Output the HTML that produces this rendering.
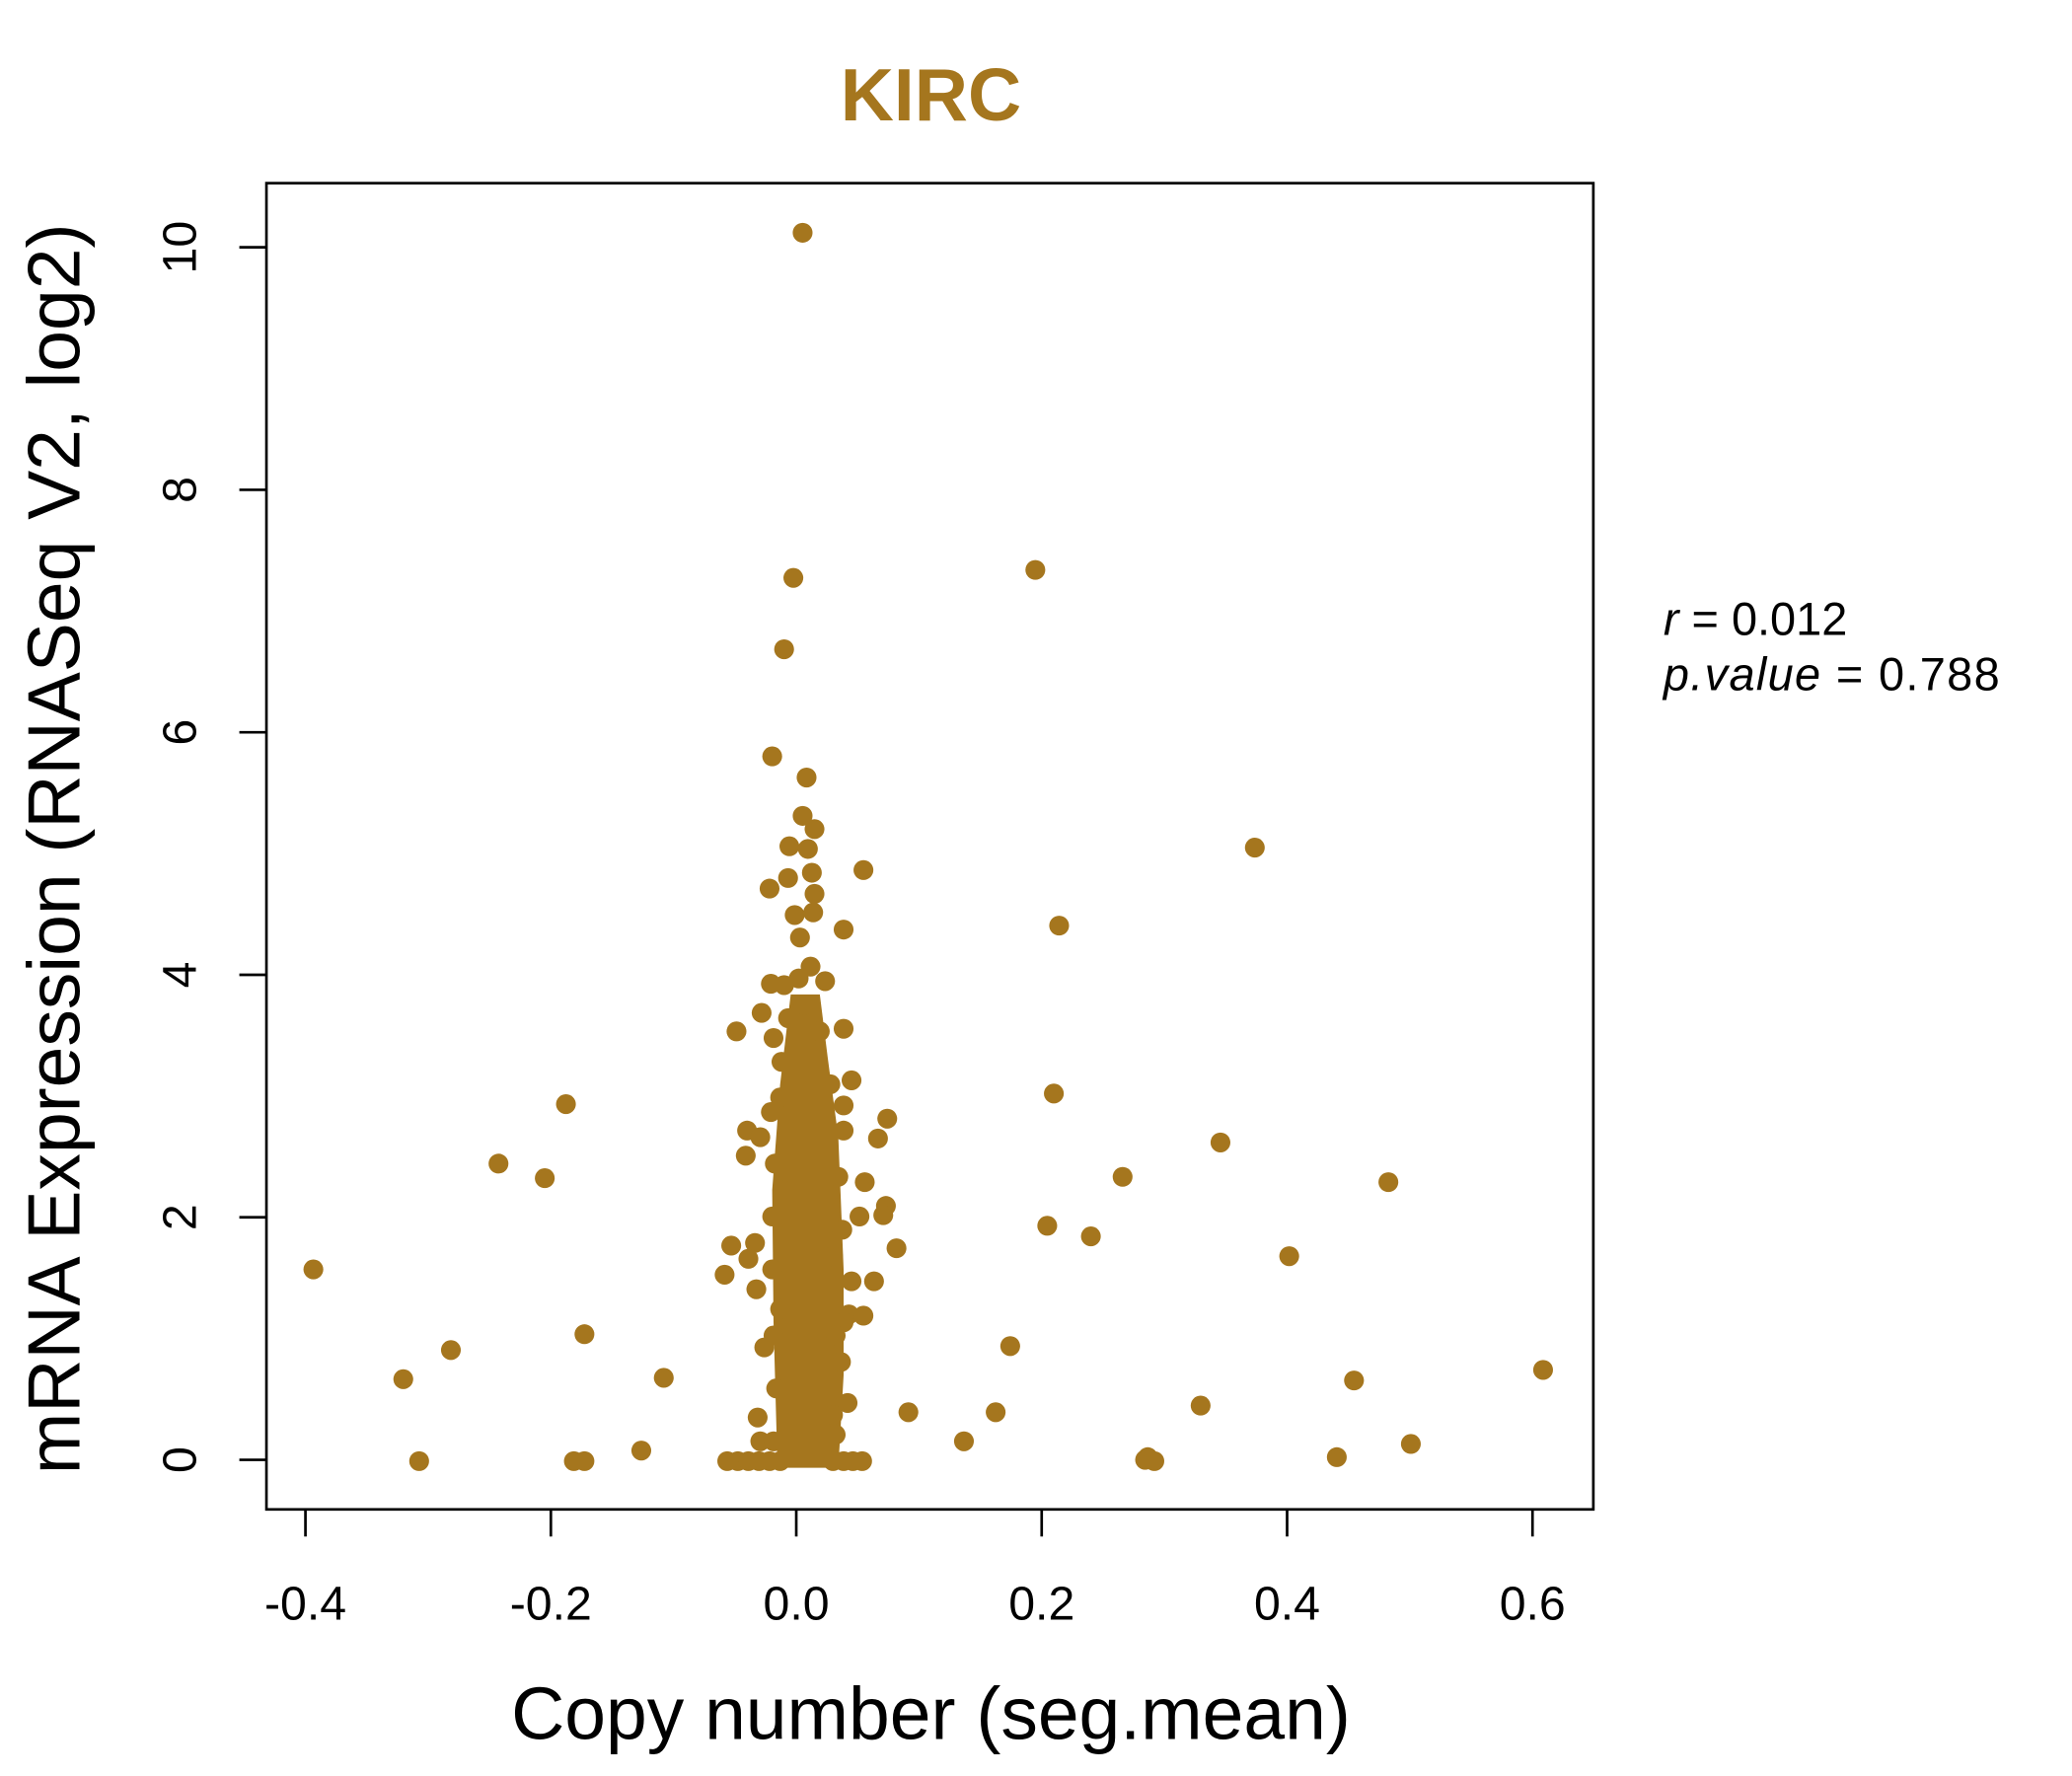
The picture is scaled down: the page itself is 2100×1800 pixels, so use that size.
<!DOCTYPE html>
<html><head><meta charset="utf-8"><style>
html,body{margin:0;padding:0;background:#fff;}
svg{display:block;}
text{font-family:"Liberation Sans",sans-serif;}
</style></head><body>
<svg width="2100" height="1800" viewBox="0 0 1567 1343.1" xmlns="http://www.w3.org/2000/svg">
<rect x="0" y="0" width="1567" height="1343.1" fill="#fff"/>
<text x="704" y="91" font-size="56" font-weight="bold" fill="#A5761E" text-anchor="middle">KIRC</text>
<rect x="201.5" y="138.5" width="1003.5" height="1003" fill="none" stroke="#000" stroke-width="2"/>
<g stroke="#000" stroke-width="2">
<line x1="231" y1="1142" x2="231" y2="1162"/><line x1="416.6" y1="1142" x2="416.6" y2="1162"/><line x1="602.2" y1="1142" x2="602.2" y2="1162"/><line x1="787.8" y1="1142" x2="787.8" y2="1162"/><line x1="973.4" y1="1142" x2="973.4" y2="1162"/><line x1="1159" y1="1142" x2="1159" y2="1162"/>
<line x1="181" y1="1104" x2="201" y2="1104"/><line x1="181" y1="920.6" x2="201" y2="920.6"/><line x1="181" y1="737.2" x2="201" y2="737.2"/><line x1="181" y1="553.8" x2="201" y2="553.8"/><line x1="181" y1="370.4" x2="201" y2="370.4"/><line x1="181" y1="187" x2="201" y2="187"/>
</g>
<g font-size="36" fill="#000" text-anchor="middle">
<text x="231" y="1225">-0.4</text><text x="416.6" y="1225">-0.2</text><text x="602.2" y="1225">0.0</text><text x="787.8" y="1225">0.2</text><text x="973.4" y="1225">0.4</text><text x="1159" y="1225">0.6</text>
<text transform="translate(148,1104) rotate(-90)">0</text>
<text transform="translate(148,920.6) rotate(-90)">2</text>
<text transform="translate(148,737.2) rotate(-90)">4</text>
<text transform="translate(148,553.8) rotate(-90)">6</text>
<text transform="translate(148,370.4) rotate(-90)">8</text>
<text transform="translate(148,187) rotate(-90)">10</text>
</g>
<text x="704" y="1315" font-size="56" text-anchor="middle">Copy number (seg.mean)</text>
<text transform="translate(60,642) rotate(-90)" font-size="56" text-anchor="middle">mRNA Expression (RNASeq V2, log2)</text>
<text x="1258" y="480" font-size="35"><tspan font-style="italic">r</tspan> = 0.012</text>
<text x="1258" y="522" font-size="35" letter-spacing="1"><tspan font-style="italic">p.value</tspan> = 0.788</text>
<g fill="#A5761E">
<path d="M598,752 L620,752 L626,800 L634,860 L638,960 L638,1040 L634,1110 L588,1110 L585,1000 L584,900 L590,820 Z"/>
<circle cx="607" cy="176" r="7.5"/><circle cx="600" cy="437" r="7.5"/><circle cx="593" cy="491" r="7.5"/><circle cx="783" cy="431" r="7.5"/>
<circle cx="584" cy="572" r="7.5"/><circle cx="610" cy="588" r="7.5"/><circle cx="607" cy="617" r="7.5"/><circle cx="616" cy="627" r="7.5"/>
<circle cx="597" cy="640" r="7.5"/><circle cx="611" cy="642" r="7.5"/><circle cx="653" cy="658" r="7.5"/><circle cx="596" cy="664" r="7.5"/>
<circle cx="614" cy="660" r="7.5"/><circle cx="582" cy="672" r="7.5"/><circle cx="616" cy="676" r="7.5"/><circle cx="601" cy="692" r="7.5"/>
<circle cx="615" cy="690" r="7.5"/><circle cx="638" cy="703" r="7.5"/><circle cx="605" cy="709" r="7.5"/><circle cx="801" cy="700" r="7.5"/>
<circle cx="949" cy="641" r="7.5"/><circle cx="613" cy="731" r="7.5"/><circle cx="583" cy="744" r="7.5"/><circle cx="593" cy="745" r="7.5"/>
<circle cx="604" cy="740" r="7.5"/><circle cx="624" cy="742" r="7.5"/><circle cx="576" cy="766" r="7.5"/><circle cx="557" cy="780" r="7.5"/>
<circle cx="638" cy="778" r="7.5"/><circle cx="585" cy="785" r="7.5"/><circle cx="591" cy="803" r="7.5"/><circle cx="644" cy="817" r="7.5"/>
<circle cx="797" cy="827" r="7.5"/><circle cx="428" cy="835" r="7.5"/><circle cx="583" cy="841" r="7.5"/><circle cx="671" cy="846" r="7.5"/>
<circle cx="638" cy="836" r="7.5"/><circle cx="565" cy="855" r="7.5"/><circle cx="564" cy="874" r="7.5"/><circle cx="575" cy="860" r="7.5"/>
<circle cx="638" cy="855" r="7.5"/><circle cx="664" cy="861" r="7.5"/><circle cx="923" cy="864" r="7.5"/><circle cx="377" cy="880" r="7.5"/>
<circle cx="412" cy="891" r="7.5"/><circle cx="849" cy="890" r="7.5"/><circle cx="1050" cy="894" r="7.5"/><circle cx="654" cy="894" r="7.5"/>
<circle cx="670" cy="912" r="7.5"/><circle cx="668" cy="919" r="7.5"/><circle cx="650" cy="920" r="7.5"/><circle cx="792" cy="927" r="7.5"/>
<circle cx="825" cy="935" r="7.5"/><circle cx="678" cy="944" r="7.5"/><circle cx="553" cy="942" r="7.5"/><circle cx="571" cy="940" r="7.5"/>
<circle cx="566" cy="952" r="7.5"/><circle cx="975" cy="950" r="7.5"/><circle cx="548" cy="964" r="7.5"/><circle cx="661" cy="969" r="7.5"/>
<circle cx="644" cy="969" r="7.5"/><circle cx="572" cy="975" r="7.5"/><circle cx="642" cy="994" r="7.5"/><circle cx="653" cy="995" r="7.5"/>
<circle cx="237" cy="960" r="7.5"/><circle cx="442" cy="1009" r="7.5"/><circle cx="341" cy="1021" r="7.5"/><circle cx="305" cy="1043" r="7.5"/>
<circle cx="578" cy="1019" r="7.5"/><circle cx="764" cy="1018" r="7.5"/><circle cx="1167" cy="1036" r="7.5"/><circle cx="502" cy="1042" r="7.5"/>
<circle cx="1024" cy="1044" r="7.5"/><circle cx="687" cy="1068" r="7.5"/><circle cx="753" cy="1068" r="7.5"/><circle cx="908" cy="1063" r="7.5"/>
<circle cx="573" cy="1072" r="7.5"/><circle cx="641" cy="1061" r="7.5"/><circle cx="729" cy="1090" r="7.5"/><circle cx="485" cy="1097" r="7.5"/>
<circle cx="1067" cy="1092" r="7.5"/><circle cx="1011" cy="1102" r="7.5"/><circle cx="575" cy="1090" r="7.5"/><circle cx="585" cy="1090" r="7.5"/>
<circle cx="632" cy="1085" r="7.5"/><circle cx="317" cy="1105" r="7.5"/><circle cx="434" cy="1105" r="7.5"/><circle cx="442" cy="1105" r="7.5"/>
<circle cx="866" cy="1104" r="7.5"/><circle cx="873" cy="1105" r="7.5"/><circle cx="868" cy="1102" r="7.5"/>
<circle cx="590" cy="830" r="7.5"/><circle cx="628" cy="820" r="7.5"/><circle cx="586" cy="880" r="7.5"/><circle cx="634" cy="890" r="7.5"/>
<circle cx="584" cy="920" r="7.5"/><circle cx="637" cy="930" r="7.5"/><circle cx="584" cy="960" r="7.5"/><circle cx="638" cy="1000" r="7.5"/>
<circle cx="585" cy="1010" r="7.5"/><circle cx="636" cy="1030" r="7.5"/><circle cx="587" cy="1050" r="7.5"/><circle cx="630" cy="1070" r="7.5"/>
<circle cx="596" cy="770" r="7.5"/><circle cx="620" cy="780" r="7.5"/><circle cx="608" cy="760" r="7.5"/>
<circle cx="592" cy="900" r="7.5"/><circle cx="630" cy="950" r="7.5"/><circle cx="590" cy="990" r="7.5"/><circle cx="632" cy="1010" r="7.5"/>
<circle cx="550" cy="1105" r="7.5"/><circle cx="558" cy="1105" r="7.5"/><circle cx="566" cy="1105" r="7.5"/><circle cx="574" cy="1105" r="7.5"/>
<circle cx="582" cy="1105" r="7.5"/><circle cx="590" cy="1105" r="7.5"/><circle cx="630" cy="1105" r="7.5"/><circle cx="638" cy="1105" r="7.5"/>
<circle cx="645" cy="1105" r="7.5"/><circle cx="652" cy="1105" r="7.5"/>
</g>
</svg>
</body></html>
